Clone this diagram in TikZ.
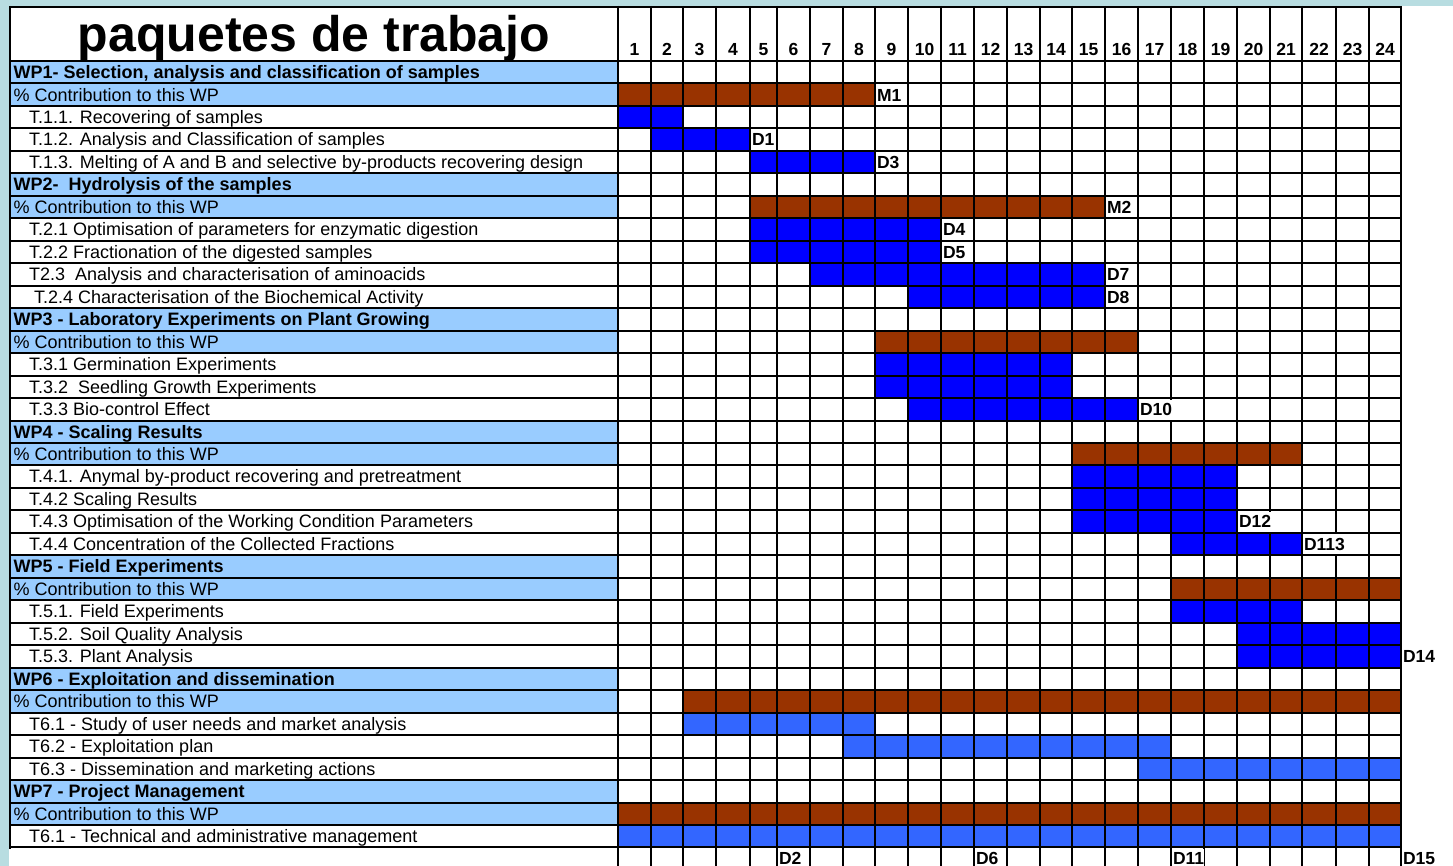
\documentclass[tikz,border=0pt]{standalone}
\usepackage{fontspec}
\setmainfont{Liberation Sans}
\usepackage{tikz}

\definecolor{frameteal}{RGB}{184,221,225}
\definecolor{wplight}{RGB}{153,204,255}
\definecolor{wpbrown}{RGB}{153,51,0}
\definecolor{taskblue}{RGB}{0,0,255}
\definecolor{mgmtblue}{RGB}{51,102,255}

% bar over row #1 from month #2 to month #3
\newcommand{\gbar}[4]{\fill[#4] (l#2 |- t#1) rectangle (e#3 |- b#1);}
% milestone / deliverable in row #1, month #2
\newcommand{\gmark}[3]{\node[Mark] (#3) at (l#2 |- m#1) {#3};}

\begin{document}
\begin{tikzpicture}[x=1pt,y=-1pt]
		\tikzstyle{Title}	= [anchor=base, inner sep=0pt, font=\fontsize{50}{55}\selectfont\bfseries]
		\tikzstyle{Num}		= [anchor=base, inner sep=0pt, font=\fontsize{17.5}{19}\selectfont\bfseries]
		\tikzstyle{WP}		= [anchor=base west, inner sep=0pt, font=\fontsize{18}{20}\selectfont\bfseries]
		\tikzstyle{Task}	= [anchor=base west, inner sep=0pt, font=\fontsize{18}{20}\selectfont]
		\tikzstyle{Mark}	= [anchor=base west, xshift=1.5pt, fill=white, inner xsep=0.3pt, inner ysep=3.8pt, font=\fontsize{17.5}{19}\selectfont\bfseries]
		\tikzstyle{Contrib}	= [wpbrown]
		\tikzstyle{Work}	= [taskblue]
		\tikzstyle{Mgmt}	= [mgmtblue]
		\tikzstyle{Rule}	= [line width=2pt]
		\tikzstyle{Col}		= [line width=1.7pt]

		\useasboundingbox (0,0) rectangle (1453,866);
		\fill[white] (0,0) rectangle (1453,866);
		\fill[frameteal] (0,0) rectangle (1453,6);
		\fill[frameteal] (0,0) rectangle (9,866);

		% months and rows
		\coordinate (lft) at (10,0);
		\coordinate (lab) at (13.5,0);
		\coordinate (ind) at (29,0);
		\coordinate (l25) at (1401,0);
		\foreach \x [count=\i, remember=\x as \lastx (initially 618)] in {651,683,716,750,777,810,843,875,908,941,974,1007,1040,1072,1105,1138,1171,1204,1237,1270,1302,1336,1369,1401} {
			\coordinate (l\i) at (\lastx,0);
			\coordinate (e\i) at (\x,0);
			\node[Num] (n\i) at ({(\lastx+\x)/2},55.5) {\i};
		}
		\foreach \r [count=\s] in {0,...,35} \coordinate (t\s) at (0,{61+\r*22.47});
		\foreach \r in {0,...,36} \coordinate (b\r) at (0,{61+\r*22.47});
		\foreach \r in {1,...,36} \coordinate (m\r) at (0,{61+(\r-0.5)*22.47+6.3});

		\foreach \r in {1,2,6,7,12,13,17,18,23,24,28,29,33,34}
			\fill[wplight] (lft |- t\r) rectangle (l1 |- b\r);

		% WP1
		\gbar{2}{1}{8}{Contrib}
		\gbar{3}{1}{2}{Work}
		\gbar{4}{2}{4}{Work}
		\gbar{5}{5}{8}{Work}
		% WP2
		\gbar{7}{5}{15}{Contrib}
		\gbar{8}{5}{10}{Work}
		\gbar{9}{5}{10}{Work}
		\gbar{10}{7}{15}{Work}
		\gbar{11}{10}{15}{Work}
		% WP3
		\gbar{13}{9}{16}{Contrib}
		\gbar{14}{9}{14}{Work}
		\gbar{15}{9}{14}{Work}
		\gbar{16}{10}{16}{Work}
		% WP4
		\gbar{18}{15}{21}{Contrib}
		\gbar{19}{15}{19}{Work}
		\gbar{20}{15}{19}{Work}
		\gbar{21}{15}{19}{Work}
		\gbar{22}{18}{21}{Work}
		% WP5
		\gbar{24}{18}{24}{Contrib}
		\gbar{25}{18}{21}{Work}
		\gbar{26}{20}{24}{Work}
		\gbar{27}{20}{24}{Work}
		% WP6
		\gbar{29}{3}{24}{Contrib}
		\gbar{30}{3}{8}{Mgmt}
		\gbar{31}{8}{17}{Mgmt}
		\gbar{32}{17}{24}{Mgmt}
		% WP7
		\gbar{34}{1}{24}{Contrib}
		\gbar{35}{1}{24}{Mgmt}

		% grid
		\draw[Rule] (10,7) -- (1401,7);
		\foreach \r in {0,...,35} \draw[Rule] (lft |- b\r) -- (l25 |- b\r);
		\draw[Rule] (10,6) -- (10,848.5);
		\foreach \i in {1,...,25} \draw[Col] (l\i) ++(0,6) -- ++(0,860);
		\draw[Rule] (l1) ++(0,6) -- ++(0,860);

		\node[Title] (title) at (314,51.5) {paquetes de trabajo};

		\node[WP]   (wp1)  at (lab |- m1)  {WP1- Selection, analysis and classification of samples};
		\node[Task] (wp1c) at (lab |- m2)  {\% Contribution to this WP};
		\node[Task] (t11)  at (ind |- m3)  {T.1.1. Recovering of samples};
		\node[Task] (t12)  at (ind |- m4)  {T.1.2. Analysis and Classification of samples};
		\node[Task] (t13)  at (ind |- m5)  {T.1.3. Melting of A and B and selective by-products recovering design};
		\node[WP]   (wp2)  at (lab |- m6)  {WP2- \ Hydrolysis of the samples};
		\node[Task] (wp2c) at (lab |- m7)  {\% Contribution to this WP};
		\node[Task] (t21)  at (ind |- m8)  {T.2.1 Optimisation of parameters for enzymatic digestion};
		\node[Task] (t22)  at (ind |- m9)  {T.2.2 Fractionation of the digested samples};
		\node[Task] (t23)  at (ind |- m10) {T2.3 \ Analysis and characterisation of aminoacids};
		\node[Task] (t24)  at (34,0 |- m11) {T.2.4 Characterisation of the Biochemical Activity};
		\node[WP]   (wp3)  at (lab |- m12) {WP3 - Laboratory Experiments on Plant Growing};
		\node[Task] (wp3c) at (lab |- m13) {\% Contribution to this WP};
		\node[Task] (t31)  at (ind |- m14) {T.3.1 Germination Experiments};
		\node[Task] (t32)  at (ind |- m15) {T.3.2 \ Seedling Growth Experiments};
		\node[Task] (t33)  at (ind |- m16) {T.3.3 Bio-control Effect};
		\node[WP]   (wp4)  at (lab |- m17) {WP4 - Scaling Results};
		\node[Task] (wp4c) at (lab |- m18) {\% Contribution to this WP};
		\node[Task] (t41)  at (ind |- m19) {T.4.1. Anymal by-product recovering and pretreatment};
		\node[Task] (t42)  at (ind |- m20) {T.4.2 Scaling Results};
		\node[Task] (t43)  at (ind |- m21) {T.4.3 Optimisation of the Working Condition Parameters};
		\node[Task] (t44)  at (ind |- m22) {T.4.4 Concentration of the Collected Fractions};
		\node[WP]   (wp5)  at (lab |- m23) {WP5 - Field Experiments};
		\node[Task] (wp5c) at (lab |- m24) {\% Contribution to this WP};
		\node[Task] (t51)  at (ind |- m25) {T.5.1. Field Experiments};
		\node[Task] (t52)  at (ind |- m26) {T.5.2. Soil Quality Analysis};
		\node[Task] (t53)  at (ind |- m27) {T.5.3. Plant Analysis};
		\node[WP]   (wp6)  at (lab |- m28) {WP6 - Exploitation and dissemination};
		\node[Task] (wp6c) at (lab |- m29) {\% Contribution to this WP};
		\node[Task] (t61)  at (ind |- m30) {T6.1 - Study of user needs and market analysis};
		\node[Task] (t62)  at (ind |- m31) {T6.2 - Exploitation plan};
		\node[Task] (t63)  at (ind |- m32) {T6.3 - Dissemination and marketing actions};
		\node[WP]   (wp7)  at (lab |- m33) {WP7 - Project Management};
		\node[Task] (wp7c) at (lab |- m34) {\% Contribution to this WP};
		\node[Task] (t71)  at (ind |- m35) {T6.1 - Technical and administrative management};

		\gmark{2}{9}{M1}
		\gmark{4}{5}{D1}
		\gmark{5}{9}{D3}
		\gmark{7}{16}{M2}
		\gmark{8}{11}{D4}
		\gmark{9}{11}{D5}
		\gmark{10}{16}{D7}
		\gmark{11}{16}{D8}
		\gmark{16}{17}{D10}
		\gmark{21}{20}{D12}
		\gmark{22}{22}{D113}
		\gmark{27}{25}{D14}
		\gmark{36}{6}{D2}
		\gmark{36}{12}{D6}
		\gmark{36}{18}{D11}
		\gmark{36}{25}{D15}
	\end{tikzpicture}
\end{document}
